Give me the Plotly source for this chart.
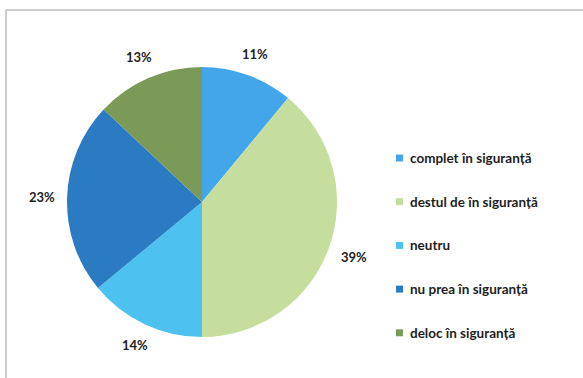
import math
import plotly.graph_objects as go

# Survey answers: how safe respondents feel
categories = [
    "complet în siguranță",
    "destul de în siguranță",
    "neutru",
    "nu prea în siguranță",
    "deloc în siguranță",
]
shares = [11, 39, 14, 23, 13]
colors = ["#44a6ea", "#c5de9e", "#4dc1ef", "#2a7bc2", "#7b9a58"]

W, H = 583, 378
cx, cy, r = 202, 202, 135  # pie centre and radius in pixels


def px_x(x):
    return x / W


def px_y(y):
    return 1 - y / H


fig = go.Figure(
    go.Pie(
        labels=categories,
        values=shares,
        sort=False,
        direction="clockwise",
        rotation=0,
        marker=dict(colors=colors, line=dict(width=0)),
        textinfo="none",
        showlegend=False,
        hoverinfo="label+percent",
        domain=dict(
            x=[px_x(cx - r), px_x(cx + r)],
            y=[px_y(cy + r), px_y(cy - r)],
        ),
    )
)

annotations = []

# Percentage labels placed outside each slice, at the slice's mid-angle
total = sum(shares)
start = 0.0
label_w, label_h, gap = 28, 14, 11
for v in shares:
    mid = (start + v / 2) / total * 2 * math.pi  # clockwise from 12 o'clock
    start += v
    s, c = math.sin(mid), math.cos(mid)
    dist = r + gap + abs(s) * label_w / 2 + abs(c) * label_h / 2
    annotations.append(
        dict(
            xref="paper", yref="paper",
            x=px_x(cx + dist * s), y=px_y(cy - dist * c),
            xanchor="center", yanchor="middle", showarrow=False,
            text=f"<b>{v}%</b>",
            font=dict(family="Lato", size=13, color="#222222"),
        )
    )

# Outer chart frame
shapes = [
    dict(
        type="rect", xref="paper", yref="paper",
        x0=px_x(6), x1=px_x(W + 10), y0=px_y(H + 10), y1=px_y(10),
        line=dict(color="#9a9a9a", width=1), fillcolor="rgba(0,0,0,0)",
    )
]

# Legend drawn as swatches + labels on the right-hand side
legend_top, legend_step = 158, 43.7
for i, (name, col) in enumerate(zip(categories, colors)):
    y = legend_top + i * legend_step
    shapes.append(
        dict(
            type="rect", xref="paper", yref="paper",
            x0=px_x(396), x1=px_x(403), y0=px_y(y + 3.5), y1=px_y(y - 3.5),
            line=dict(width=0), fillcolor=col,
        )
    )
    annotations.append(
        dict(
            xref="paper", yref="paper", x=px_x(408), y=px_y(y),
            xanchor="left", yanchor="middle", showarrow=False,
            text=f"<b>{name}</b>",
            font=dict(family="Lato", size=13.5, color="#1e1e1e"),
        )
    )

fig.update_layout(
    width=W,
    height=H,
    margin=dict(l=0, r=0, t=0, b=0),
    paper_bgcolor="white",
    plot_bgcolor="white",
    shapes=shapes,
    annotations=annotations,
)

fig.write_html("out.html")
